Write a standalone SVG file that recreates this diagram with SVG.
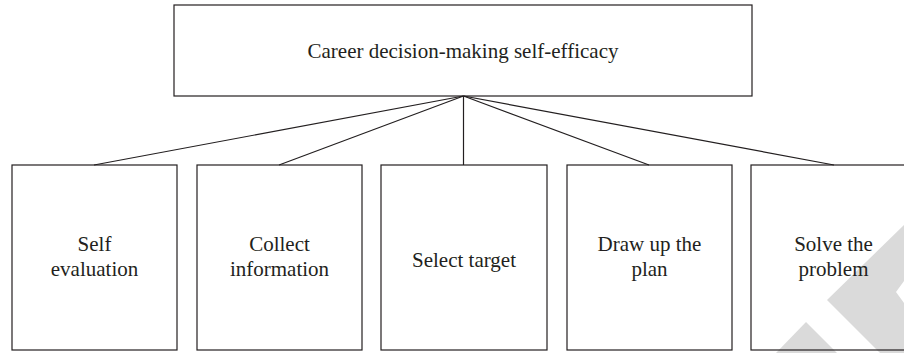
<svg xmlns="http://www.w3.org/2000/svg" width="904" height="353" viewBox="0 0 904 353">
<style>
.box{fill:none;stroke:#231f20;stroke-width:1.2}
.lbl{font-size:21px;fill:#231f20;text-anchor:middle}
.conn line{stroke:#231f20;stroke-width:1.2}
.wm{fill:#dadada}
</style>
<rect x="0" y="0" width="904" height="353" fill="#ffffff"/>
<g id="watermark">
<polygon class="wm" points="904,225 827,300 880,353 904,353 904,303 896,292 904,281"/>
<polygon class="wm" points="806,322 776,353 837,353"/>
</g>
<g id="connectors" class="conn">
<line x1="463.5" y1="96" x2="94" y2="165"/>
<line x1="463.5" y1="96" x2="279" y2="165"/>
<line x1="463.5" y1="96" x2="463.5" y2="165"/>
<line x1="463.5" y1="96" x2="649" y2="165"/>
<line x1="463.5" y1="96" x2="834" y2="165"/>
</g>
<g font-family="Liberation Serif, Times New Roman, serif">
<g id="root">
<rect class="box" x="174" y="5" width="578" height="91"/>
<text class="lbl" x="463" y="58" font-family="Liberation Serif">Career decision-making self-efficacy</text>
</g>
<g id="self-evaluation">
<rect class="box" x="12" y="165" width="165" height="185"/>
<text class="lbl" x="94.5" y="251" font-family="Liberation Serif">Self</text>
<text class="lbl" x="94.5" y="276" font-family="Liberation Serif">evaluation</text>
</g>
<g id="collect-information">
<rect class="box" x="197" y="165" width="165" height="185"/>
<text class="lbl" x="279.5" y="251" font-family="Liberation Serif">Collect</text>
<text class="lbl" x="279.5" y="276" font-family="Liberation Serif">information</text>
</g>
<g id="select-target">
<rect class="box" x="381" y="165" width="166" height="185"/>
<text class="lbl" x="464" y="267" font-family="Liberation Serif">Select target</text>
</g>
<g id="draw-up-the-plan">
<rect class="box" x="567" y="165" width="165" height="185"/>
<text class="lbl" x="649.5" y="251" font-family="Liberation Serif">Draw up the</text>
<text class="lbl" x="649.5" y="276" font-family="Liberation Serif">plan</text>
</g>
<g id="solve-the-problem">
<rect class="box" x="751" y="165" width="165" height="185"/>
<text class="lbl" x="833.5" y="251" font-family="Liberation Serif">Solve the</text>
<text class="lbl" x="833.5" y="276" font-family="Liberation Serif">problem</text>
</g>
</g>
</svg>
